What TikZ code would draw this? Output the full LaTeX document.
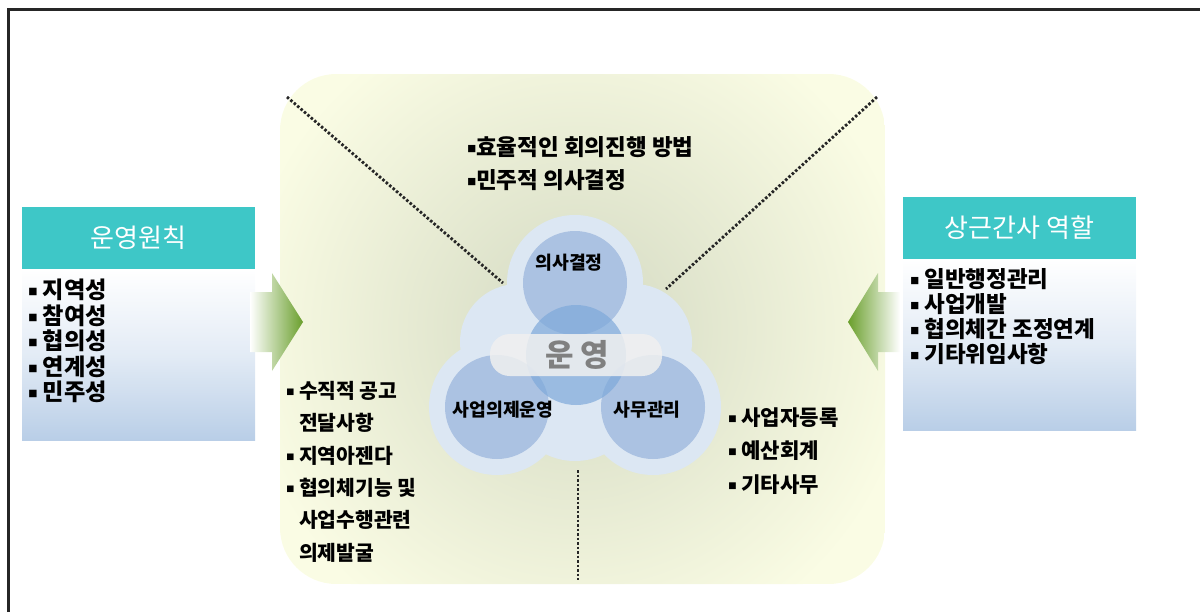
\documentclass[tikz,border=0pt]{standalone}
\usepackage{fontspec}
\setmainfont{Noto Sans CJK KR}
\newfontfamily\symfont{DejaVu Sans}
\newcommand{\blt}{\raisebox{0.18em}{\scalebox{0.42}{\symfont\char"25A0}}}

\definecolor{bgyellow}{HTML}{FAFCE4}
\definecolor{glowgray}{HTML}{D3D9C2}
\definecolor{blobblue}{HTML}{DCE7F3}
\definecolor{petalblue}{HTML}{ABC2E2}
\definecolor{coreblue}{HTML}{7EA9DA}
\definecolor{headteal}{HTML}{3EC7C7}
\definecolor{boxblue}{HTML}{B9CEE7}
\definecolor{arrowgreen}{HTML}{6A9F2C}

\tikzset{
  head/.style={fill=headteal, text=white, minimum width=165.7pt, minimum height=44pt,
    inner sep=0pt, font=\fontsize{18.5}{21}\selectfont},
  item/.style={anchor=north west, inner sep=0pt, align=left},
  sepline/.style={line width=2pt, black!85, dash pattern=on 1.8pt off 1.4pt},
  pname/.style={font=\bfseries\fontsize{13}{15}\selectfont},
}

\begin{document}
\begin{tikzpicture}[x=0.025cm, y=-0.025cm]
    \useasboundingbox (0,0) rectangle (1200,612);

    % 테두리
    \draw[line width=1.5pt, black!85] (8.5,612) -- (8.5,9.5) -- (1200,9.5);

    % 가운데 배경
    \begin{scope}
        \clip[rounded corners=40pt] (280,74) rectangle (885,584);
        \fill[bgyellow] (280,74) rectangle (885,584);
        \shade[inner color=glowgray, outer color=bgyellow] (577,330) circle (340);
    \end{scope}

    % 구분 점선
    \coordinate (tl) at (287,97);
    \coordinate (tlin) at (503,283);
    \coordinate (tr) at (877,97);
    \coordinate (trin) at (666,289);
    \coordinate (bot) at (578,470);
    \coordinate (botout) at (578,580);
    \draw[sepline] (tl) -- (tlin);
    \draw[sepline] (tr) -- (trin);
    \draw[sepline] (bot) -- (botout);

    % 세 원 바탕
    \fill[blobblue] (575,283) circle (68) (497,407) circle (68) (653,407) circle (68)
        (576,355) circle (68) (518,342) circle (58) (634,342) circle (58) (575,395) circle (66);

    % 세 원과 가운데 원
    \fill[petalblue] (575,283) circle (52);
    \fill[petalblue] (497,407) circle (52);
    \fill[petalblue] (653,407) circle (52);
    \fill[coreblue, opacity=0.7] (576,355) circle (50);

    % 운영 띠
    \fill[white!88!gray, opacity=0.85, rounded corners=14pt] (490,334) rectangle (662,376);
    \node[font=\bfseries\fontsize{22}{24}\selectfont, text=black!50] (run) at (577,355) {운 영};

    % 원 이름
    \node[pname] (dec) at (569,263) {의사결정};
    \node[pname] (agenda) at (503,410) {사업의제운영};
    \node[pname] (office) at (647,410) {사무관리};

    % 왼쪽 상자
    \node[head] (lhead) at (138.5,238) {운영원칙};
    \shade[top color=white, bottom color=boxblue, middle color=white!60!boxblue]
        (22,269) rectangle (255,440);
    \node[item, font=\bfseries\fontsize{16.5}{18.1}\selectfont] (llist) at (28,279)
        {\blt\ 지역성\\ \blt\ 참여성\\ \blt\ 협의성\\ \blt\ 연계성\\ \blt\ 민주성};

    % 오른쪽 상자
    \node[head] (rhead) at (1019.5,228) {상근간사 역할};
    \shade[top color=white, bottom color=boxblue, middle color=white!60!boxblue]
        (903,259) rectangle (1136,430);
    \node[item, font=\bfseries\fontsize{16}{17.8}\selectfont] (rlist) at (910,268)
        {\blt\ 일반행정관리\\ \blt\ 사업개발\\ \blt\ 협의체간 조정연계\\ \blt\ 기타위임사항};

    % 화살표
    \shade[left color=white, right color=arrowgreen]
        (250,292) -- (272,292) -- (272,273) -- (303,322) -- (272,371) -- (272,352) -- (250,352) -- cycle;
    \shade[left color=arrowgreen, right color=white]
        (900,292) -- (878,292) -- (878,273) -- (848,322) -- (878,371) -- (878,352) -- (900,352) -- cycle;

    % 항목 글
    \node[item, font=\bfseries\fontsize{16}{23.5}\selectfont] (toplist) at (467,136)
        {\blt 효율적인 회의진행 방법\\ \blt 민주적 의사결정};
    \node[item, font=\bfseries\fontsize{14.5}{23}\selectfont] (bllist) at (286,381)
        {\blt\ 수직적 공고\\ \phantom{\blt\ }전달사항\\ \blt\ 지역아젠다\\
         \blt\ 협의체기능 및\\ \phantom{\blt\ }사업수행관련\\ \phantom{\blt\ }의제발굴};
    \node[item, font=\bfseries\fontsize{15}{23.8}\selectfont] (brlist) at (728,407)
        {\blt\ 사업자등록\\ \blt\ 예산회계\\ \blt\ 기타사무};
\end{tikzpicture}
\end{document}
